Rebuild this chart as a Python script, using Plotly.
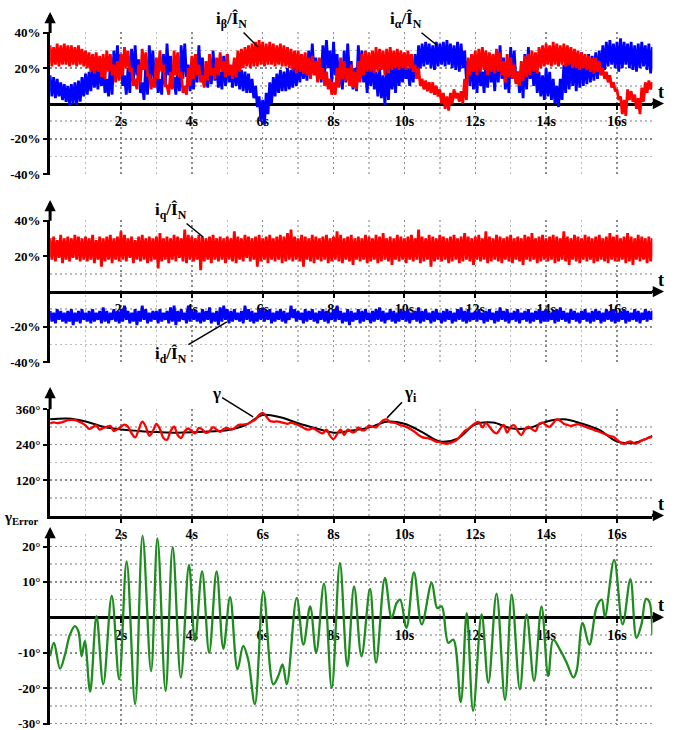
import plotly.graph_objects as go

W, H = 679, 730

# ---------------- data ----------------
t_fast = [round(0.1 * i, 1) for i in range(171)]          # 0 .. 17 s sampling grid

# panel 1: i_alpha / I_N (blue) – upper and lower edge of the noisy trace, %
i_alpha_hi = [16, 15, 14, 12, 11, 10, 11, 12, 13, 15,
              17, 18, 21, 20, 23, 19, 14, 22, 30, 33,
              28, 16, 20, 31, 33, 25, 12, 22, 33, 30,
              18, 14, 28, 34, 27, 15, 20, 33, 34, 22,
              16, 28, 33, 26, 18, 24, 30, 22, 18, 27,
              28, 20, 24, 22, 19, 18, 17, 14, 10, 4,
              2, 6, 12, 15, 17, 19, 18, 20, 19, 22,
              24, 28, 24, 30, 34, 26, 24, 33, 36, 30,
              35, 28, 22, 30, 34, 24, 20, 33, 30, 20,
              26, 24, 18, 20, 16, 20, 24, 21, 25, 22,
              24, 20, 23, 28, 33, 34, 35, 34, 33, 35,
              34, 35, 36, 34, 33, 35, 34, 30, 24, 28,
              22, 26, 18, 24, 28, 22, 30, 33, 26, 20,
              32, 30, 18, 20, 28, 32, 24, 22, 18, 16,
              20, 18, 14, 10, 14, 22, 26, 28, 24, 27,
              29, 26, 28, 27, 29, 30, 33, 35, 36, 34,
              35, 37, 35, 34, 35, 33, 34, 35, 33, 34,
              32]
i_alpha_lo = [4, 3, 4, 2, 1, -1, 0, -1, 1, 4,
              5, 7, 9, 8, 10, 6, 4, 5, 14, 17,
              10, 5, 6, 12, 16, 6, 2, 5, 14, 12,
              6, 5, 10, 16, 9, 5, 7, 14, 15, 7,
              8, 12, 14, 10, 9, 11, 13, 9, 8, 10,
              12, 9, 10, 8, 7, 6, 6, 3, -2, -10,
              -12, -6, 0, 4, 6, 7, 7, 8, 9, 10,
              12, 14, 13, 16, 18, 14, 12, 17, 20, 12,
              16, 10, 8, 12, 16, 8, 7, 14, 12, 6,
              10, 8, 4, 3, -1, 2, 8, 6, 10, 12,
              14, 10, 12, 14, 20, 21, 22, 20, 19, 21,
              22, 21, 22, 20, 19, 18, 20, 14, 10, 8,
              6, 10, 6, 9, 12, 7, 12, 14, 8, 6,
              14, 12, 6, 3, 8, 14, 10, 6, 4, 2,
              4, 2, 0, -2, 2, 6, 8, 10, 7, 9,
              10, 11, 12, 13, 14, 16, 19, 21, 22, 20,
              18, 20, 22, 20, 19, 18, 20, 21, 19, 17,
              18]

# panel 1: i_beta / I_N (red)
i_beta_hi = [33, 32, 34, 33, 34, 33, 33, 32, 33, 31,
             30, 29, 28, 29, 27, 28, 30, 28, 22, 24,
             28, 32, 30, 20, 14, 22, 31, 29, 16, 14,
             26, 30, 22, 10, 18, 30, 29, 18, 10, 20,
             27, 28, 22, 16, 24, 28, 20, 26, 29, 24,
             28, 22, 26, 30, 31, 32, 33, 34, 35, 36,
             35, 34, 35, 34, 33, 34, 33, 32, 31, 30,
             30, 28, 29, 26, 27, 24, 26, 20, 18, 14,
             12, 20, 26, 24, 20, 22, 18, 24, 28, 30,
             29, 30, 32, 31, 30, 31, 32, 30, 31, 30,
             29, 30, 28, 22, 20, 14, 13, 12, 12, 10,
             8, 6, 4, 6, 8, 6, 7, 14, 26, 28,
             30, 31, 32, 30, 29, 28, 31, 29, 24, 28,
             26, 22, 18, 24, 27, 28, 30, 29, 32, 33,
             34, 33, 35, 34, 33, 34, 33, 32, 31, 30,
             29, 28, 27, 26, 26, 24, 20, 18, 16, 12,
             8, 4, 2, 8, 7, 5, 3, 9, 12, 13,
             12]
i_beta_lo = [21, 22, 21, 22, 22, 21, 22, 21, 22, 21,
             20, 18, 17, 18, 15, 14, 18, 16, 12, 13,
             16, 20, 18, 10, 8, 12, 19, 16, 8, 9,
             14, 18, 10, 5, 8, 16, 15, 6, 5, 10,
             14, 16, 12, 9, 13, 16, 14, 16, 18, 15,
             16, 14, 15, 18, 20, 21, 20, 21, 21, 22,
             21, 22, 22, 21, 22, 21, 21, 20, 19, 17,
             18, 17, 16, 14, 16, 12, 14, 10, 8, 5,
             5, 9, 14, 13, 10, 9, 8, 12, 16, 18,
             18, 17, 18, 19, 16, 17, 19, 20, 19, 20,
             19, 20, 18, 14, 10, 8, 7, 6, 5, 4,
             0, -3, -4, 0, 3, 1, 0, 2, 16, 18,
             16, 18, 19, 16, 18, 17, 18, 16, 12, 15,
             14, 11, 10, 13, 15, 16, 18, 17, 20, 21,
             22, 21, 22, 21, 22, 21, 22, 20, 20, 19,
             20, 19, 18, 17, 18, 16, 14, 12, 9, 7,
             2, -6, -7, 2, 1, -3, -6, 1, 6, 8,
             9]

# panel 2: i_q / I_N (red) and i_d / I_N (blue)
i_q_hi = [30, 31, 29, 32, 30, 31, 30, 32, 31, 30,
          31, 30, 32, 29, 31, 30, 31, 32, 30, 31,
          34, 32, 30, 31, 29, 31, 32, 30, 31, 30,
          31, 33, 30, 31, 30, 32, 31, 30, 35, 32,
          31, 30, 32, 31, 30, 31, 32, 30, 31, 30,
          31, 30, 34, 31, 30, 32, 31, 30, 31, 32,
          30, 31, 32, 30, 31, 32, 31, 33, 35, 31,
          30, 32, 31, 30, 32, 31, 30, 31, 32, 30,
          31, 34, 32, 30, 31, 32, 30, 31, 30, 32,
          31, 30, 32, 31, 33, 30, 31, 30, 32, 31,
          30, 31, 32, 30, 35, 31, 30, 32, 31, 30,
          32, 31, 30, 31, 32, 30, 31, 33, 31, 30,
          31, 32, 30, 34, 31, 30, 32, 31, 30, 31,
          32, 30, 31, 30, 32, 31, 33, 30, 31, 32,
          30, 31, 32, 31, 30, 34, 31, 30, 32, 31,
          30, 32, 31, 30, 31, 32, 30, 31, 33, 31,
          32, 30, 31, 33, 31, 30, 32, 31, 30, 31,
          30]
i_q_lo = [18, 17, 19, 16, 18, 17, 19, 18, 17, 18,
          17, 18, 16, 18, 14, 17, 18, 16, 18, 17,
          18, 17, 19, 16, 18, 17, 18, 16, 17, 18,
          13, 17, 18, 16, 18, 17, 19, 17, 16, 18,
          17, 18, 12, 17, 18, 16, 18, 17, 18, 16,
          18, 17, 16, 18, 17, 19, 17, 18, 14, 17,
          18, 16, 18, 17, 18, 16, 17, 18, 17, 18,
          17, 14, 18, 17, 16, 18, 17, 18, 16, 17,
          18, 17, 16, 18, 17, 15, 18, 17, 18, 16,
          17, 18, 16, 17, 18, 17, 15, 18, 17, 18,
          16, 18, 17, 18, 16, 17, 18, 14, 17, 18,
          17, 18, 16, 17, 18, 16, 17, 18, 17, 15,
          18, 17, 18, 16, 17, 18, 17, 16, 18, 17,
          16, 18, 17, 15, 18, 17, 18, 16, 17, 18,
          17, 18, 16, 17, 18, 17, 15, 18, 17, 16,
          18, 17, 18, 16, 17, 18, 17, 16, 18, 17,
          17, 18, 16, 17, 15, 18, 17, 18, 16, 17,
          18]
i_d_hi = [-11, -12, -10, -11, -12, -11, -10, -12, -11, -10,
          -12, -11, -10, -12, -11, -9, -11, -12, -10, -11,
          -10, -8, -11, -12, -10, -11, -8, -10, -12, -11,
          -11, -10, -12, -11, -9, -8, -11, -10, -12, -8,
          -10, -11, -12, -10, -11, -9, -12, -11, -9, -8,
          -10, -11, -10, -12, -11, -8, -10, -11, -12, -10,
          -9, -11, -10, -12, -11, -10, -11, -12, -8, -10,
          -11, -12, -10, -11, -10, -12, -11, -10, -11, -12,
          -10, -8, -11, -12, -10, -11, -12, -10, -11, -10,
          -12, -11, -10, -9, -11, -12, -10, -11, -12, -10,
          -11, -10, -12, -11, -9, -11, -10, -12, -11, -10,
          -12, -11, -10, -11, -12, -10, -9, -11, -10, -12,
          -11, -10, -12, -11, -10, -12, -11, -9, -11, -10,
          -12, -11, -10, -12, -11, -10, -12, -11, -10, -11,
          -10, -12, -11, -10, -9, -11, -12, -10, -11, -12,
          -11, -10, -12, -11, -10, -11, -12, -10, -11, -10,
          -12, -11, -10, -11, -12, -10, -11, -12, -10, -11,
          -11]
i_d_lo = [-17, -18, -16, -17, -18, -17, -19, -17, -18, -16,
          -17, -18, -17, -16, -18, -17, -18, -16, -17, -18,
          -17, -16, -18, -17, -19, -17, -16, -18, -17, -16,
          -18, -17, -16, -18, -17, -19, -17, -16, -18, -17,
          -16, -17, -18, -17, -16, -18, -17, -19, -17, -16,
          -18, -17, -16, -17, -18, -16, -17, -18, -17, -16,
          -17, -16, -18, -17, -16, -17, -18, -16, -15, -17,
          -16, -18, -17, -16, -17, -18, -16, -17, -18, -16,
          -17, -16, -18, -17, -19, -17, -16, -18, -17, -16,
          -18, -17, -16, -17, -18, -16, -17, -18, -17, -16,
          -17, -18, -16, -17, -18, -17, -16, -18, -17, -16,
          -18, -17, -16, -18, -17, -16, -17, -18, -17, -16,
          -17, -16, -18, -17, -16, -18, -17, -16, -17, -18,
          -16, -17, -18, -16, -17, -18, -17, -16, -18, -17,
          -17, -16, -18, -17, -16, -17, -18, -16, -17, -18,
          -16, -17, -18, -17, -16, -18, -17, -16, -17, -18,
          -17, -16, -18, -17, -16, -17, -18, -16, -17, -16,
          -17]

# panel 3: gamma (black, slow) and gamma_i (red), degrees
gamma_t = [0, 0.5, 1.0, 1.5, 2.0, 2.5, 3.0, 3.5, 4.0, 4.5, 5.0, 5.5, 6.0, 6.5,
           7.0, 7.5, 8.0, 8.5, 9.0, 9.5, 10.0, 10.5, 11.0, 11.5, 12.0, 12.5,
           13.0, 13.5, 14.0, 14.5, 15.0, 15.5, 16.0, 16.5, 17.0]
gamma_v = [325, 328, 318, 300, 291, 286, 282, 280, 281, 284, 288, 305, 340, 332,
           312, 295, 280, 287, 297, 317, 310, 282, 250, 260, 308, 314,
           295, 295, 317, 325, 311, 289, 250, 246, 269]
gamma_i_v = [311, 315, 312, 314, 318, 322, 323, 322, 318, 313,
             305, 293, 298, 305, 290, 296, 300, 303, 285, 292,
             300, 307, 300, 278, 264, 290, 317, 300, 270, 285,
             310, 292, 262, 256, 285, 300, 272, 262, 285, 294,
             285, 278, 296, 290, 279, 285, 299, 290, 283, 292,
             296, 290, 295, 305, 307, 308, 311, 318, 325, 340,
             347, 335, 320, 317, 318, 316, 313, 310, 314, 310,
             306, 300, 293, 290, 295, 290, 282, 278, 290, 270,
             258, 275, 290, 272, 290, 283, 282, 298, 288, 290,
             304, 300, 298, 310, 322, 325, 315, 314, 310, 305,
             302, 297, 290, 282, 272, 265, 262, 260, 255, 250,
             248, 244, 242, 246, 250, 258, 272, 285, 293, 303,
             312, 316, 298, 312, 300, 285, 278, 292, 306, 280,
             300, 305, 285, 272, 290, 300, 292, 285, 310, 314,
             305, 300, 312, 325, 320, 310, 306, 303, 306, 309,
             305, 300, 296, 292, 287, 283, 278, 274, 268, 266,
             256, 247, 242, 248, 250, 243, 246, 254, 258, 263,
             266]

# panel 4: gamma error (green), degrees, at the read turning points
gamma_err_t = [0, 0.11, 0.28, 0.42, 0.56, 0.70, 0.80, 0.89, 0.98, 1.13, 1.31, 1.50,
               1.74, 1.95, 2.16, 2.40, 2.61, 2.85, 3.03, 3.26, 3.46, 3.69, 3.92,
               4.09, 4.29, 4.49, 4.70, 4.89, 5.08, 5.29, 5.45, 5.59, 5.78, 6.02,
               6.30, 6.44, 6.56, 6.68, 6.96, 7.15, 7.34, 7.51, 7.73, 7.95, 8.18,
               8.39, 8.58, 8.79, 9.03, 9.20, 9.45, 9.64, 9.78, 9.88, 10.06, 10.27,
               10.49, 10.77, 10.93, 11.05, 11.24, 11.38, 11.59, 11.76, 11.94,
               12.18, 12.37, 12.60, 12.84, 13.03, 13.26, 13.45, 13.66, 13.87,
               14.06, 14.20, 14.39, 14.58, 14.77, 14.86, 15.03, 15.22, 15.43,
               15.57, 15.66, 15.92, 16.16, 16.38, 16.55, 16.69, 16.82, 16.91, 17.0]
gamma_err_v = [-11, -7.2, -14.5, -10.5, -4.9, -2.5, -4, -11, -6.7, -21, 0.3, -18.9,
               6.1, -17.5, 15.8, -24.5, 23, -15.2, 22.3, -20.8, 19.8, -17, 14.8,
               -6.7, 13, -10, 13, -8.9, 5.7, -14.7, -8.1, -11.9, -24.5, 7.3,
               -18.9, -16.6, -13.3, -18.9, 5.5, -7.7, 3.1, -10, 9.5, -19.9, 15.3,
               -13.8, 8.7, -11, 8, -12.8, 11.1, -0.2, 4.0, 5, -3, 12.7,
               -2, 9.7, 2.6, 3.1, -7.2, -6.3, -23.9, 1.2, -26.4,
               0.8, -18.5, 6.7, -23.3, 6.4, -20.3, 0.8, -18, 3.1,
               -16.6, -6.3, -9.1, -12.8, -17, -15.2, -1.6, -7.7, 3.1,
               5, 0.1, 16.2, -2, 10.8, -5.8, -2, 5.2, 4.5, -4.9]

# tick labels
time_ticks = [2, 4, 6, 8, 10, 12, 14, 16]
time_labels = ["2s", "4s", "6s", "8s", "10s", "12s", "14s", "16s"]
pct_ticks = [-40, -20, 20, 40]
pct_labels = ["-40%", "-20%", "20%", "40%"]
ang_ticks = [120, 240, 360]
ang_labels = ["120°", "240°", "360°"]
err_ticks = [-30, -20, -10, 10, 20]
err_labels = ["-30°", "-20°", "-10°", "10°", "20°"]

# ---------------- styling / geometry ----------------
FONT = "Liberation Serif"
RED, BLUE, BLACK, GREEN = "#ff0000", "#0000ff", "#000000", "#1e8c1e"
X0_PX, X1_PX, XTIP_PX = 50.1, 652.4, 664.0
T_RANGE = [0, 17]
HALF_STEP = 0.05   # the lower edge sample sits half a grid step after the upper one

panels = [
    dict(rng=[-40.3, 40.3], top=32.4, bot=174.6, tip=12, ticks=pct_ticks, labels=pct_labels, minor=10),
    dict(rng=[-40.3, 40.3], top=220.2, bot=362.8, tip=200, ticks=pct_ticks, labels=pct_labels, minor=10),
    dict(rng=[0, 361], top=408.7, bot=515.5, tip=387, ticks=ang_ticks, labels=ang_labels, minor=60),
    dict(rng=[-30.4, 23.5], top=534.1, bot=725.0, tip=527, ticks=err_ticks, labels=err_labels, minor=5),
]

xtickfont = dict(family=FONT, size=14, color="black", weight="bold")
ytickfont = dict(family=FONT, size=13, color="black", weight="bold")
grid_major = "#8a8a8a"
grid_minor = "#bdbdbd"

fig = go.Figure()


def noisy(hi, lo, color, xa, ya):
    """Noisy trace drawn as a zig-zag between its read upper and lower edges."""
    xs, ys = [], []
    for t, h, l in zip(t_fast, hi, lo):
        xs += [t, t + HALF_STEP]
        ys += [h, l]
    return go.Scatter(x=xs, y=ys, mode="lines", line=dict(color=color, width=2.8),
                      xaxis=xa, yaxis=ya, hoverinfo="skip", showlegend=False)


# panel 1
fig.add_trace(noisy(i_alpha_hi, i_alpha_lo, BLUE, "x", "y"))
fig.add_trace(noisy(i_beta_hi, i_beta_lo, RED, "x", "y"))
# panel 2
fig.add_trace(noisy(i_q_hi, i_q_lo, RED, "x2", "y2"))
fig.add_trace(noisy(i_d_hi, i_d_lo, BLUE, "x2", "y2"))
# panel 3
fig.add_trace(go.Scatter(x=gamma_t, y=gamma_v, mode="lines", line=dict(color=BLACK, width=2, shape="spline"),
                         xaxis="x3", yaxis="y3", showlegend=False))
fig.add_trace(go.Scatter(x=t_fast, y=gamma_i_v, mode="lines", line=dict(color=RED, width=2.3, shape="spline"),
                         xaxis="x3", yaxis="y3", showlegend=False))
# panel 4
fig.add_trace(go.Scatter(x=gamma_err_t, y=gamma_err_v, mode="lines",
                         line=dict(color=GREEN, width=2.3, shape="spline"),
                         xaxis="x4", yaxis="y4", showlegend=False))

layout = dict(width=W, height=H, margin=dict(l=0, r=0, t=0, b=0, autoexpand=False), autosize=False,
              paper_bgcolor="white", plot_bgcolor="white", showlegend=False)
annotations = []

for k, p in enumerate(panels):
    n = "" if k == 0 else str(k + 1)
    r0, r1 = p["rng"]
    ydom = [1 - p["bot"] / H, 1 - p["top"] / H]
    zero_paper = ydom[0] + (0 - r0) / (r1 - r0) * (ydom[1] - ydom[0])
    xa = dict(domain=[X0_PX / W, X1_PX / W], range=T_RANGE, showline=True, linecolor="black",
              linewidth=3, tickmode="array", tickvals=time_ticks, ticktext=time_labels,
              ticks="outside", ticklen=4, tickwidth=2, tickcolor="black", tickfont=xtickfont,
              showgrid=True, gridcolor=grid_major, griddash="2px,3px", gridwidth=1.5,
              minor=dict(tickmode="linear", tick0=0, dtick=1, showgrid=True, gridcolor=grid_minor,
                         griddash="2px,3px", gridwidth=1.5, ticks=""),
              zeroline=False, fixedrange=True, automargin=False, ticklabeloverflow="allow")
    if k == 2:
        xa.update(anchor="y3")
    else:
        xa.update(anchor="free", position=zero_paper, layer="below traces")
    ya = dict(domain=ydom, range=p["rng"], anchor="x" + n, showline=True, linecolor="black",
              linewidth=3, tickmode="array", tickvals=p["ticks"], ticktext=p["labels"],
              ticks="outside", ticklen=4, tickwidth=2, tickcolor="black", tickfont=ytickfont,
              showgrid=True, gridcolor=grid_major, griddash="2px,3px", gridwidth=1.5,
              minor=dict(tickmode="linear", tick0=0, dtick=p["minor"], showgrid=True,
                         gridcolor=grid_minor, griddash="2px,3px", gridwidth=1.5, ticks=""),
              zeroline=False, fixedrange=True, automargin=False, ticklabeloverflow="allow")
    layout["xaxis" + n] = xa
    layout["yaxis" + n] = ya

    # y-axis arrow
    annotations.append(dict(xref="x" + n, x=0, yref="paper", y=1 - p["tip"] / H, ax=0,
                            ay=p["top"] - p["tip"] + 2, axref="pixel", ayref="pixel", text="",
                            showarrow=True, arrowhead=2, arrowsize=0.75, arrowwidth=3,
                            arrowcolor="black"))
    # x-axis arrow
    annotations.append(dict(xref="paper", x=XTIP_PX / W, yref="y" + n, y=0, ax=-(XTIP_PX - X1_PX) - 2,
                            ay=0, text="", showarrow=True, arrowhead=2, arrowsize=0.75,
                            arrowwidth=3, arrowcolor="black"))
    # "t" label
    annotations.append(dict(xref="paper", x=666 / W, yref="y" + n, y=0, yshift=12, text="t",
                            showarrow=False, font=dict(family=FONT, size=18, color="black", weight="bold")))

lab_font = dict(family=FONT, size=17, color="black", weight="bold")


def label(text, xr, yr, x, y, ax, ay):
    return dict(xref=xr, yref=yr, x=x, y=y, ax=ax, ay=ay, text=text, showarrow=True,
                arrowhead=0, arrowwidth=1.5, arrowcolor="black", font=lab_font)


annotations += [
    label("i<sub>β</sub>/Î<sub>N</sub>", "x", "y", 5.87, 32, -27, -27),
    label("i<sub>α</sub>/Î<sub>N</sub>", "x", "y", 10.92, 33, -31, -25),
    label("i<sub>q</sub>/Î<sub>N</sub>", "x2", "y2", 4.32, 30.8, -32, -26),
    label("i<sub>d</sub>/Î<sub>N</sub>", "x2", "y2", 4.99, -17.2, -56, 33),
    label("γ", "x3", "y3", 5.73, 333, -37, -23),
    label("γ<sub>i</sub>", "x3", "y3", 9.51, 330, 23, -24),
    dict(xref="paper", yref="paper", x=2 / W, y=1 - 518 / H, xanchor="left", yanchor="middle",
         text="γ<sub>Error</sub>", showarrow=False,
         font=dict(family=FONT, size=15, color="black", weight="bold")),
]
layout["annotations"] = annotations
fig.update_layout(**layout)

# the page's default 8px body margin would shift the whole figure; remove it
fig.write_html("out.html", config={"displayModeBar": False, "staticPlot": True},
               post_script="document.body.style.margin='0';document.body.style.padding='0';")
